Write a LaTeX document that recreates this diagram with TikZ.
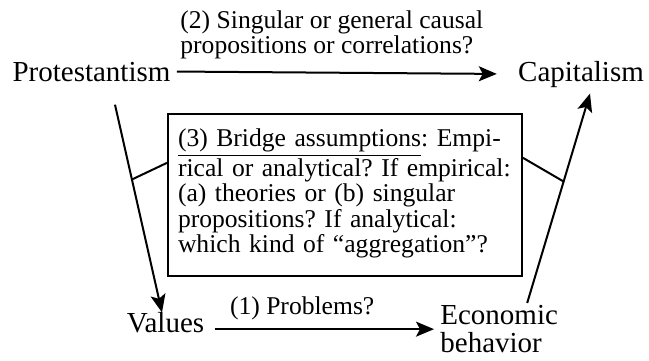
\documentclass[tikz,border=0pt]{standalone}
\usepackage{fontspec}
\setmainfont{Liberation Serif}
\usetikzlibrary{positioning, arrows.meta}
\frenchspacing

\tikzset{
  term/.style={font=\fontsize{14.5}{14}\selectfont, inner sep=3pt},
  note/.style={font=\fontsize{12.8}{11}\selectfont, inner sep=3pt, align=left},
  link/.style={line width=1pt, -{Stealth[length=9pt, width=7.5pt, inset=2pt]}},
  bridgebox/.style={draw, line width=1pt, font=\fontsize{12.8}{11.5}\selectfont,
                    text width=167pt, align=left, inner xsep=5pt, inner ysep=7.5pt}
}

\begin{document}
\begin{tikzpicture}[x=0.5pt, y=0.5pt]
  \useasboundingbox (0,0) rectangle (649,360);
  % the four terms
  \node[term, anchor=base] (prot) at (91.5,279) {Protestantism};
  \node[term, anchor=base] (cap) at (581,279) {Capitalism};
  \node[term, anchor=base] (val) at (165.5,28) {Values};
  \node[term, align=left, anchor=north west] (econ) at (434,61) {Economic\\behavior};
  % macro level
  \draw[link, shorten >=7.5pt] (prot.east) -- (cap.west);
  \node[note, anchor=north west] (q2) at (174,356)
    {(2) Singular or general causal\\propositions or correlations?};
  % micro level
  \coordinate (vout) at ([yshift=-3.5pt]val.east);
  \draw[link, shorten <=2pt] (vout) -- (vout -| econ.west)
    node[note, pos=0.41, above=1pt] (q1) {(1) Problems?};
  % down and up
  \draw[link] ([xshift=11.75pt, yshift=-8.5pt]prot.south) -- ([xshift=-1.75pt, yshift=-3.5pt]val.north)
    coordinate[pos=0.36] (downmid);
  \draw[link] ([xshift=14pt, yshift=-2pt]econ.north) -- ([xshift=4.5pt]cap.south)
    coordinate[pos=0.58] (upmid);
  % bridge assumptions
  \node[bridgebox, anchor=north] (bridge) at (345,247)
    {\underline{(3) Bridge assumptions}: Empi-\\
     rical or analytical? If empirical:\\
     (a) theories or (b) singular\\
     propositions? If analytical:\\
     which kind of “aggregation”?\rule[-4pt]{0pt}{1pt}};
  \draw[line width=1pt] ([yshift=16pt]bridge.west) -- (downmid);
  \draw[line width=1pt] ([yshift=18.5pt]bridge.east) -- (upmid);
\end{tikzpicture}
\end{document}
